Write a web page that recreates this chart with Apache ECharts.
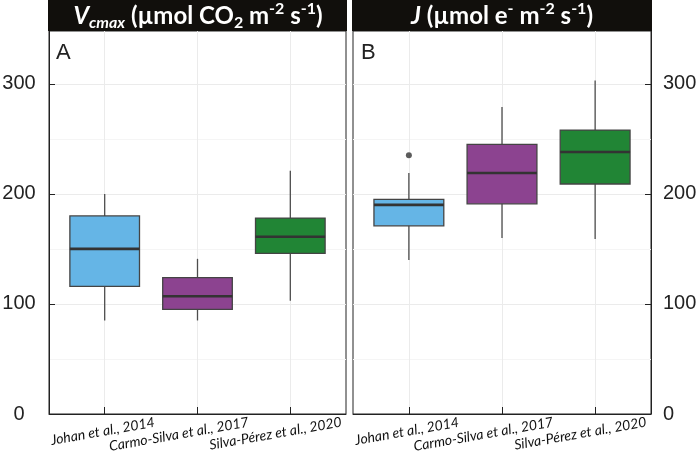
<!DOCTYPE html>
<html><head><meta charset="utf-8">
<script src="https://cdn.jsdelivr.net/npm/echarts@6/dist/echarts.min.js"></script>
<style>html,body{margin:0;padding:0;background:#fff}#c{width:700px;height:453px}</style>
</head><body><div id="c"></div>
<script>
// ---- data ----
const categories = ['Johan et al., 2014', 'Carmo-Silva et al., 2017', 'Silva-Pérez et al., 2020'];
const categoryPositions = [1, 2, 3];
const boxColors = ['#65b5e6', '#8c4390', '#218535'];

const vcmaxMin    = [85, 85, 103];
const vcmaxQ1     = [116, 95, 146];
const vcmaxMedian = [150, 107, 161];
const vcmaxQ3     = [180, 124, 178];
const vcmaxMax    = [200, 141, 221];

const jMin    = [140, 160, 159];
const jQ1     = [171, 191, 209];
const jMedian = [190, 219, 238];
const jQ3     = [195, 245, 258];
const jMax    = [219, 279, 303];
const jOutliers = [[1, 235]];

const yMajorTicks = [0, 100, 200, 300];
const yMinorTicks = [50, 150, 250];

// ---- build ----
function boxData(mn, q1, md, q3, mx) {
  return categoryPositions.map((p, i) => [p, mn[i], q1[i], md[i], q3[i], mx[i]]);
}
function renderBox(params, api) {
  const x = api.value(0);
  const lo = api.coord([x, api.value(1)]);
  const q1 = api.coord([x, api.value(2)]);
  const md = api.coord([x, api.value(3)]);
  const q3 = api.coord([x, api.value(4)]);
  const hi = api.coord([x, api.value(5)]);
  const w = api.size([0.75, 0])[0];
  const cx = lo[0];
  const wStyle = { stroke: '#4d4d4d', lineWidth: 1.3 };
  return {
    type: 'group', children: [
      { type: 'line', shape: { x1: cx, y1: hi[1], x2: cx, y2: q3[1] }, style: wStyle },
      { type: 'line', shape: { x1: cx, y1: q1[1], x2: cx, y2: lo[1] }, style: wStyle },
      { type: 'rect', shape: { x: cx - w / 2, y: q3[1], width: w, height: q1[1] - q3[1] },
        style: { fill: boxColors[params.dataIndex], stroke: '#444', lineWidth: 1.3 } },
      { type: 'line', shape: { x1: cx - w / 2, y1: md[1], x2: cx + w / 2, y2: md[1] },
        style: { stroke: '#333', lineWidth: 2.6 } }
    ]
  };
}

const lblBase = { fontStyle: 'italic', fontSize: 14, fontFamily: 'Lato', color: '#111' };
const labelRich = {
  l0: Object.assign({}, lblBase, { padding: [0, 4, 0, 0] }),
  l1: Object.assign({}, lblBase, { padding: [0, 38, 0, 0] }),
  l2: Object.assign({}, lblBase, { padding: [0, 30, 0, 0] })
};

function makeX(gi) {
  return {
    gridIndex: gi, type: 'value', min: 0.4, max: 3.6,
    axisLine: { show: true, onZero: false, lineStyle: { color: '#222', width: 1 } },
    axisTick: { show: true, inside: true, length: 7, customValues: categoryPositions, lineStyle: { color: '#222' } },
    axisLabel: {
      show: true, customValues: categoryPositions, rotate: 10, align: 'center', verticalAlign: 'middle', margin: 17,
      formatter: v => { const i = Math.round(v) - 1; return '{l' + i + '|' + categories[i] + '}'; },
      rich: labelRich
    },
    splitLine: { show: true, lineStyle: { color: '#ebebeb', width: 1 } }
  };
}
function makeYMain(gi, pos) {
  return {
    gridIndex: gi, type: 'value', min: 0, max: 348, position: pos,
    axisLine: { show: true, onZero: false, lineStyle: { color: '#222', width: 1 } },
    axisTick: { show: true, inside: true, length: 6, customValues: yMajorTicks, lineStyle: { color: '#222' } },
    axisLabel: {
      show: true, customValues: yMajorTicks, fontSize: 20, fontFamily: 'Liberation Sans', color: '#222',
      margin: pos === 'left' ? 30 : 12, align: pos === 'left' ? 'center' : 'left'
    },
    splitLine: { show: true, lineStyle: { color: '#ebebeb', width: 1 } }
  };
}
function makeYMinor(gi, pos) {
  return {
    gridIndex: gi, type: 'value', min: 0, max: 348, position: pos,
    axisLine: { show: false }, axisLabel: { show: false },
    axisTick: { show: false, customValues: yMinorTicks },
    splitLine: { show: true, lineStyle: { color: '#f5f5f5', width: 1 } }
  };
}

const hb = { fontFamily: 'Lato', fontWeight: 'bold', color: '#fff' };
const headRich = {
  n: Object.assign({}, hb, { fontSize: 24, lineHeight: 30 }),
  i: Object.assign({}, hb, { fontStyle: 'italic', fontSize: 24, lineHeight: 30 }),
  si: Object.assign({}, hb, { fontStyle: 'italic', fontSize: 16, lineHeight: 17, verticalAlign: 'bottom' }),
  sb: Object.assign({}, hb, { fontSize: 16, lineHeight: 17, verticalAlign: 'bottom' }),
  sp: Object.assign({}, hb, { fontSize: 16, lineHeight: 17, verticalAlign: 'top' })
};
function headerText(x, text) {
  return {
    type: 'text', x: x, y: 16, z: 100,
    style: { text: text, rich: headRich, align: 'center', verticalAlign: 'middle', fontFamily: 'Lato', fontWeight: 'bold', fontSize: 24, fill: '#fff' }
  };
}

const option = {
  animation: false,
  backgroundColor: '#fff',
  grid: [
    { left: 49, top: 31, width: 297, height: 383, show: true, borderColor: '#222', borderWidth: 1, backgroundColor: 'transparent', containLabel: false, outerBoundsMode: 'none' },
    { left: 353, top: 31, width: 298, height: 383, show: true, borderColor: '#222', borderWidth: 1, backgroundColor: 'transparent', containLabel: false, outerBoundsMode: 'none' }
  ],
  xAxis: [makeX(0), makeX(1)],
  yAxis: [makeYMain(0, 'left'), makeYMinor(0, 'left'), makeYMain(1, 'right'), makeYMinor(1, 'right')],
  series: [
    { type: 'custom', xAxisIndex: 0, yAxisIndex: 0, renderItem: renderBox,
      encode: { x: 0, y: [1, 2, 3, 4, 5] },
      data: boxData(vcmaxMin, vcmaxQ1, vcmaxMedian, vcmaxQ3, vcmaxMax) },
    { type: 'custom', xAxisIndex: 1, yAxisIndex: 2, renderItem: renderBox,
      encode: { x: 0, y: [1, 2, 3, 4, 5] },
      data: boxData(jMin, jQ1, jMedian, jQ3, jMax) },
    { type: 'scatter', xAxisIndex: 1, yAxisIndex: 2, data: jOutliers, symbolSize: 6,
      itemStyle: { color: '#333' } }
  ],
  graphic: [
    { type: 'rect', shape: { x: 48, y: 0, width: 299, height: 31 }, style: { fill: '#110f0c' }, z: 90 },
    { type: 'rect', shape: { x: 352, y: 0, width: 300, height: 31 }, style: { fill: '#110f0c' }, z: 90 },
    headerText(198, '{i|V}{si|cmax}{n| (µmol CO}{sb|2}{n| m}{sp|-2}{n| s}{sp|-1}{n|)}'),
    headerText(502, '{i|J}{n| (µmol e}{sp|-}{n| m}{sp|-2}{n| s}{sp|-1}{n|)}'),
    { type: 'text', x: 56, y: 53, z: 100, style: { text: 'A', fontFamily: 'Liberation Sans', fontSize: 22, fill: '#222', verticalAlign: 'middle' } },
    { type: 'text', x: 361, y: 53, z: 100, style: { text: 'B', fontFamily: 'Liberation Sans', fontSize: 22, fill: '#222', verticalAlign: 'middle' } }
  ]
};
const chart = echarts.init(document.getElementById('c'), null, { renderer: 'canvas' });
chart.setOption(option);
</script>
</body></html>
